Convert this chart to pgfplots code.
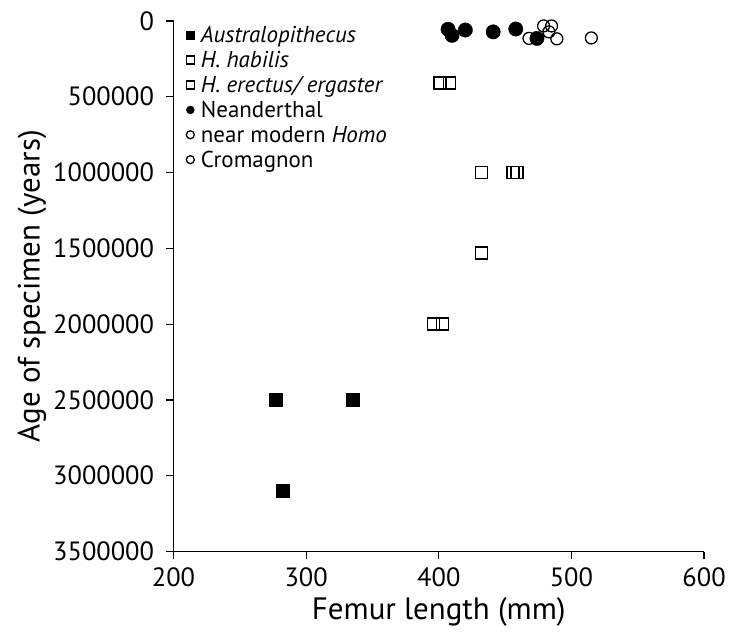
\documentclass[border=0pt]{standalone}
\usepackage{pgfplots}
\pgfplotsset{compat=1.18}
\usepackage{fontspec}
\setmainfont{PT Sans}
\begin{document}
\begin{tikzpicture}
\begin{axis}[
  scale only axis,
  width=532pt, height=532pt,
  xmin=200, xmax=600, ymin=0, ymax=3500000,
  y dir=reverse,
  axis lines*=left,
  axis line style={line width=1.2pt},
  xtick={200,300,400,500,600},
  ytick={0,500000,1000000,1500000,2000000,2500000,3000000,3500000},
  scaled y ticks=false,
  scaled x ticks=false,
  /pgf/number format/assume math mode=true,
  /pgf/number format/fixed,
  /pgf/number format/1000 sep={},
  tick align=outside,
  major tick length=8pt,
  tick style={line width=1.2pt, black},
  ticklabel style={font=\fontsize{26.5}{30}\selectfont},
  xticklabel style={yshift=-5pt},
  yticklabel style={xshift=-8pt},
  xlabel={Femur length (mm)},
  ylabel={Age of specimen (years)},
  label style={font=\fontsize{31}{36}\selectfont},
  xlabel style={yshift=-4pt},
  ylabel style={yshift=0pt},
  clip=false,
  legend style={at={(axis description cs:0,1)}, anchor=north west, draw=none, fill=none,
    font=\fontsize{23}{27}\selectfont, row sep=1.2pt, xshift=12pt, yshift=-2pt,
    inner sep=0pt, nodes={inner sep=3pt}},
  legend cell align=left,
  legend image code/.code={\draw[#1, mark size=4pt] plot coordinates {(4pt,0pt)};\path (0pt,0pt) (11pt,0pt);},
]
\addplot[only marks, mark=square*, mark size=6.5pt, black, mark options={fill=black}] coordinates {
 (277,2500000) (335,2500000) (282,3100000)
};
\addlegendentry{\textit{Australopithecus}}
\addplot[only marks, mark=square, mark size=6pt, black, line width=1.3pt] coordinates {
 (396,2000000) (403,2000000) (432,1530000)
};
\addlegendentry{\textit{H. habilis}}
\addplot[only marks, mark=square, mark size=6pt, black, line width=1.3pt] coordinates {
 (432,1000000) (456,1000000) (459,1000000) (401,410000) (408,410000)
};
\addlegendentry{\textit{H. erectus/ ergaster}}
\addplot[only marks, mark=*, mark size=7.2pt, black, mark options={fill=black}] coordinates {
 (407,55000) (410,95000) (420,60000) (441,72000) (458,53000) (474,115000)
};
\addlegendentry{Neanderthal}
\addplot[only marks, mark=o, mark size=6pt, black, line width=1.3pt, mark options={fill=white}] coordinates {
 (468,115000) (489,118000) (515,112000)
};
\addlegendentry{near modern \textit{Homo}}
\addplot[only marks, mark=o, mark size=6pt, black, line width=1.3pt, mark options={fill=white}] coordinates {
 (479,33000) (485,33000) (483,72000)
};
\addlegendentry{Cromagnon}
\end{axis}
\path[use as bounding box] (-174pt,-88pt) rectangle (555pt,553pt);
\end{tikzpicture}
\end{document}
